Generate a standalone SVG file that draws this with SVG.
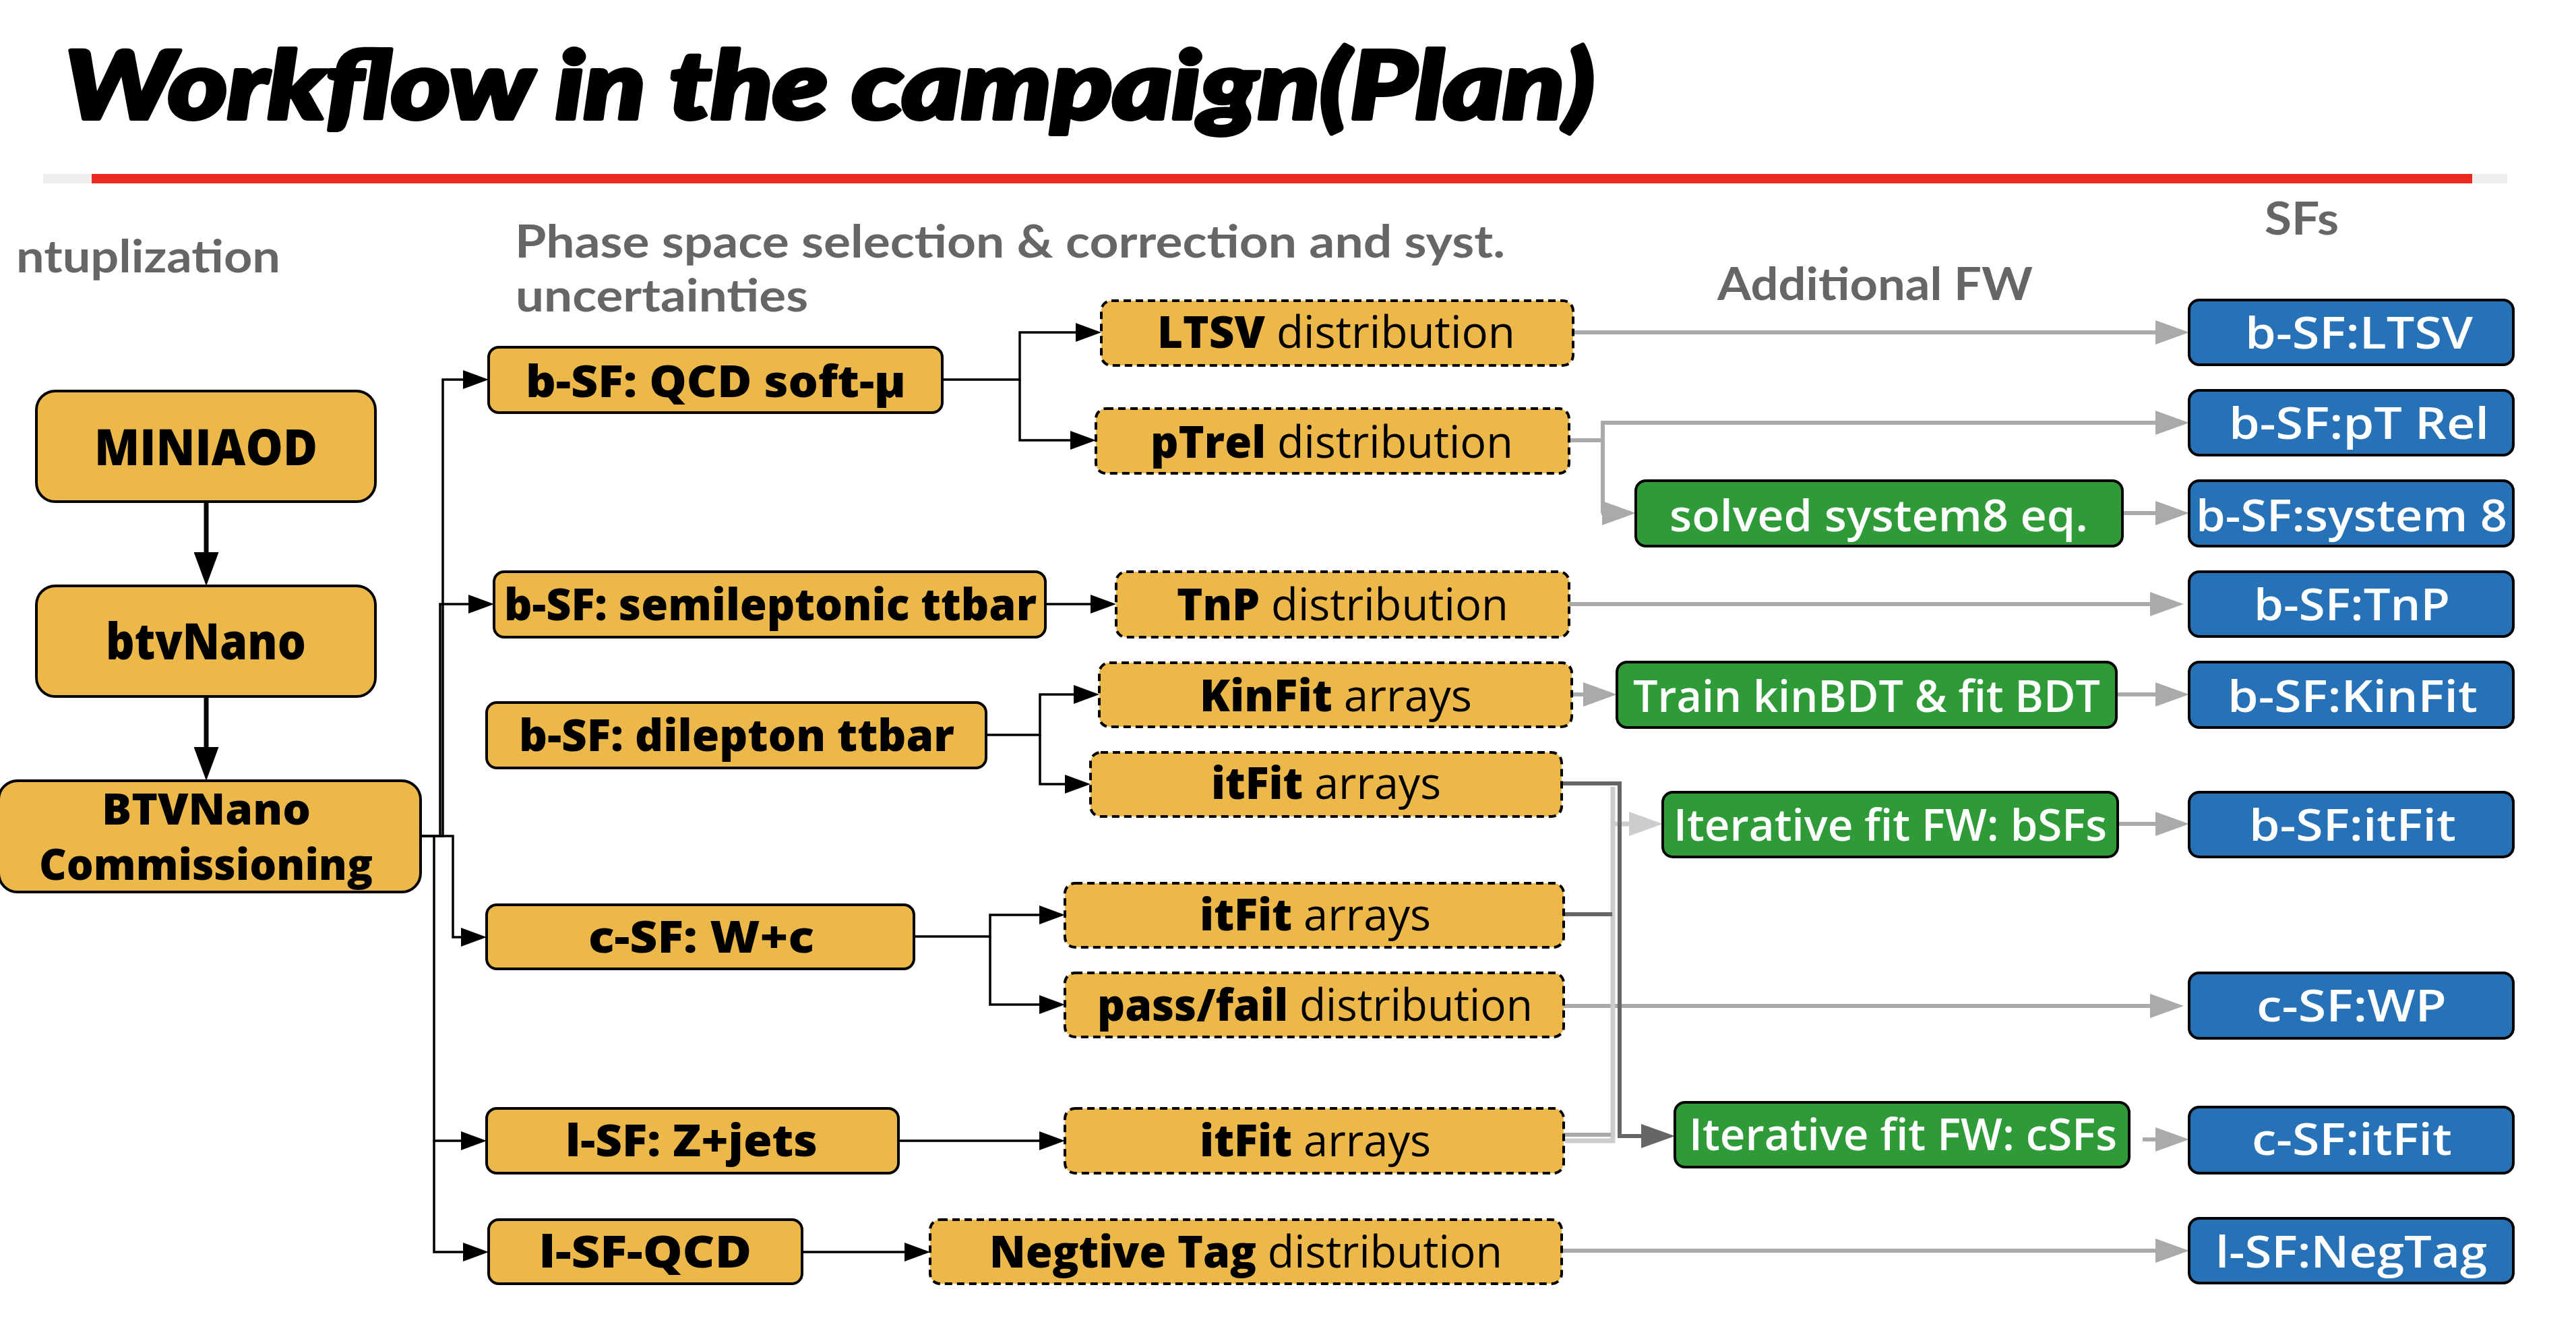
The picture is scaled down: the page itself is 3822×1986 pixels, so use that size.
<svg xmlns="http://www.w3.org/2000/svg" width="3822" height="1986" viewBox="0 0 3822 1986">
<style>
.t{font-family:"Open Sans","Noto Sans",sans-serif;font-size:66px}
.k{fill:#000;font-weight:800}
.kr{font-weight:400}
.w{fill:#fff;font-weight:600}
.h{font-family:Lato,"Open Sans",sans-serif;font-weight:700;fill:#666;font-size:67px}
.o{fill:#ECB84A;stroke:#000;stroke-width:4}
.od{fill:#ECB84A;stroke:#000;stroke-width:4;stroke-dasharray:11 7}
.g{fill:#2E9A38;stroke:#000;stroke-width:4}
.b{fill:#2771B6;stroke:#000;stroke-width:4}
.cb{fill:none;stroke:#000;stroke-width:3.5}
.cB{fill:none;stroke:#000;stroke-width:7}
.cg{fill:none;stroke:#aaa;stroke-width:6}
.cd{fill:none;stroke:#666;stroke-width:6}
.cl{fill:none;stroke:#ccc;stroke-width:7}
</style>
<defs>
<marker id="ab" markerUnits="userSpaceOnUse" markerWidth="38" markerHeight="28" refX="0" refY="14" orient="auto"><path d="M0,0 L38,14 L0,28 z" fill="#000"/></marker>
<marker id="aB" markerUnits="userSpaceOnUse" markerWidth="50" markerHeight="37" refX="0" refY="18.5" orient="auto"><path d="M0,0 L50,18.5 L0,37 z" fill="#000"/></marker>
<marker id="ag" markerUnits="userSpaceOnUse" markerWidth="50" markerHeight="36" refX="0" refY="18" orient="auto"><path d="M0,0 L50,18 L0,36 z" fill="#aaa"/></marker>
<marker id="ad" markerUnits="userSpaceOnUse" markerWidth="50" markerHeight="36" refX="0" refY="18" orient="auto"><path d="M0,0 L50,18 L0,36 z" fill="#666"/></marker>
<marker id="al" markerUnits="userSpaceOnUse" markerWidth="50" markerHeight="36" refX="0" refY="18" orient="auto"><path d="M0,0 L50,18 L0,36 z" fill="#ccc"/></marker>
</defs>
<rect x="0" y="0" width="3822" height="1986" fill="#fff"/>

<g id="title">
<text x="96" y="176" textLength="2270" lengthAdjust="spacingAndGlyphs" style="font-family:Lato,'Open Sans',sans-serif;font-weight:900;font-style:italic;font-size:140px;fill:#000;stroke:#000;stroke-width:6;stroke-linejoin:round">Workflow in the campaign(Plan)</text>
<rect x="64" y="258" width="3656" height="14" fill="#eeeeee"/>
<rect x="136" y="258" width="3532" height="14" fill="#EA2A1F"/>
</g>

<g id="headers">
<text class="h" x="24" y="404" textLength="392" lengthAdjust="spacingAndGlyphs">ntuplization</text>
<text class="h" x="764" y="382" textLength="1469" lengthAdjust="spacingAndGlyphs">Phase space selection &amp; correction and syst.</text>
<text class="h" x="765" y="462" textLength="434" lengthAdjust="spacingAndGlyphs">uncertainties</text>
<text class="h" x="2548" y="445" textLength="468" lengthAdjust="spacingAndGlyphs">Additional FW</text>
<text class="h" x="3360" y="348" textLength="110" lengthAdjust="spacingAndGlyphs">SFs</text>
</g>

<g id="connectors">
<path class="cB" d="M306,744 V819" marker-end="url(#aB)"/>
<path class="cB" d="M306,1033 V1108" marker-end="url(#aB)"/>
<path class="cb" d="M624,1240 H657 V563 H687" marker-end="url(#ab)"/>
<path class="cb" d="M624,1240 H653 V896 H695" marker-end="url(#ab)"/>
<path class="cb" d="M624,1240 H672 V1390 H684" marker-end="url(#ab)"/>
<path class="cb" d="M624,1240 H644 V1692 H684" marker-end="url(#ab)"/>
<path class="cb" d="M644,1692 V1857 H687" marker-end="url(#ab)"/>
<path class="cb" d="M1398,563 H1513 V493 H1596" marker-end="url(#ab)"/>
<path class="cb" d="M1513,563 V653 H1588" marker-end="url(#ab)"/>
<path class="cb" d="M1551,896 H1618" marker-end="url(#ab)"/>
<path class="cb" d="M1463,1090 H1543 V1030 H1593" marker-end="url(#ab)"/>
<path class="cb" d="M1543,1090 V1163 H1580" marker-end="url(#ab)"/>
<path class="cb" d="M1356,1389 H1469 V1357 H1542" marker-end="url(#ab)"/>
<path class="cb" d="M1469,1389 V1490 H1542" marker-end="url(#ab)"/>
<path class="cb" d="M1333,1692 H1542" marker-end="url(#ab)"/>
<path class="cb" d="M1190,1857 H1342" marker-end="url(#ab)"/>

<path class="cg" d="M2334,493 H3198" marker-end="url(#ag)"/>
<path class="cg" d="M2328,653 H2378 V627 H3198" marker-end="url(#ag)"/>
<path class="cg" d="M2378,627 V761"/>
<path class="cg" d="M2376,761 H2377" marker-end="url(#ag)"/>
<path class="cg" d="M3149,761 H3198" marker-end="url(#ag)"/>
<path class="cg" d="M2328,896 H3190" marker-end="url(#ag)"/>
<path class="cg" d="M2332,1030 H2349" marker-end="url(#ag)"/>
<path class="cg" d="M3140,1030 H3198" marker-end="url(#ag)"/>
<path class="cg" d="M3142,1222 H3198" marker-end="url(#ag)"/>
<path class="cg" d="M2320,1492 H3190" marker-end="url(#ag)"/>
<path class="cg" d="M3179,1690 H3198" marker-end="url(#ag)"/>
<path class="cg" d="M2317,1855 H3198" marker-end="url(#ag)"/>
<path class="cl" d="M2393,1167 V1692 H2322"/>
<path class="cl" d="M2393,1222 H2417" marker-end="url(#al)"/>
<path class="cg" d="M2296,1683 H2390"/>
<path class="cd" d="M2317,1162 H2403 V1685 H2435" marker-end="url(#ad)"/>
<path class="cd" d="M2320,1356 H2392"/>
</g>

<g id="n-miniaod"><rect class="o" x="54" y="580" width="503" height="164" rx="28"/><text class="t k" x="140" y="690" style="font-size:74px" textLength="331" lengthAdjust="spacingAndGlyphs">MINIAOD</text></g>
<g id="n-btvnano"><rect class="o" x="54" y="869" width="503" height="164" rx="28"/><text class="t k" x="157" y="978" style="font-size:74px" textLength="297" lengthAdjust="spacingAndGlyphs">btvNano</text></g>
<g id="n-btvcomm"><rect class="o" x="-2" y="1158" width="626" height="165" rx="28"/><text class="t k" x="151" y="1223" style="font-size:64px" textLength="310" lengthAdjust="spacingAndGlyphs">BTVNano</text><text class="t k" x="58" y="1305" style="font-size:64px" textLength="495" lengthAdjust="spacingAndGlyphs">Commissioning</text></g>

<g id="n-qcd"><rect class="o" x="725" y="515" width="673" height="97" rx="15"/><text class="t k" x="780" y="589" textLength="564" lengthAdjust="spacingAndGlyphs">b-SF: QCD soft-μ</text></g>
<g id="n-semilep"><rect class="o" x="733" y="848" width="818" height="97" rx="15"/><text class="t k" x="748" y="920" textLength="790" lengthAdjust="spacingAndGlyphs">b-SF: semileptonic ttbar</text></g>
<g id="n-dilep"><rect class="o" x="722" y="1042" width="741" height="97" rx="15"/><text class="t k" x="770" y="1114" textLength="646" lengthAdjust="spacingAndGlyphs">b-SF: dilepton ttbar</text></g>
<g id="n-wc"><rect class="o" x="722" y="1342" width="634" height="95" rx="15"/><text class="t k" x="873" y="1413" textLength="335" lengthAdjust="spacingAndGlyphs">c-SF: W+c</text></g>
<g id="n-zjets"><rect class="o" x="722" y="1644" width="611" height="96" rx="15"/><text class="t k" x="839" y="1715" textLength="374" lengthAdjust="spacingAndGlyphs">l-SF: Z+jets</text></g>
<g id="n-lqcd"><rect class="o" x="725" y="1809" width="465" height="95" rx="15"/><text class="t k" x="800" y="1880" textLength="315" lengthAdjust="spacingAndGlyphs">l-SF-QCD</text></g>

<g id="n-ltsvd"><rect class="od" x="1634" y="446" width="700" height="96" rx="15"/><text class="t k" x="1717" y="516" textLength="531" lengthAdjust="spacingAndGlyphs">LTSV<tspan class="kr"> distribution</tspan></text></g>
<g id="n-ptreld"><rect class="od" x="1626" y="606" width="702" height="96" rx="15"/><text class="t k" x="1707" y="679" textLength="538" lengthAdjust="spacingAndGlyphs">pTrel<tspan class="kr"> distribution</tspan></text></g>
<g id="n-tnpd"><rect class="od" x="1656" y="848" width="672" height="97" rx="15"/><text class="t k" x="1746" y="920" textLength="492" lengthAdjust="spacingAndGlyphs">TnP<tspan class="kr"> distribution</tspan></text></g>
<g id="n-kinfita"><rect class="od" x="1631" y="983" width="701" height="95" rx="15"/><text class="t k" x="1780" y="1055" textLength="404" lengthAdjust="spacingAndGlyphs">KinFit<tspan class="kr"> arrays</tspan></text></g>
<g id="n-itfit1"><rect class="od" x="1618" y="1116" width="699" height="95" rx="15"/><text class="t k" x="1797" y="1185" textLength="341" lengthAdjust="spacingAndGlyphs">itFit<tspan class="kr"> arrays</tspan></text></g>
<g id="n-itfit2"><rect class="od" x="1580" y="1310" width="740" height="95" rx="15"/><text class="t k" x="1780" y="1380" textLength="343" lengthAdjust="spacingAndGlyphs">itFit<tspan class="kr"> arrays</tspan></text></g>
<g id="n-passfail"><rect class="od" x="1580" y="1443" width="740" height="95" rx="15"/><text class="t k" x="1628" y="1514" textLength="646" lengthAdjust="spacingAndGlyphs">pass/fail<tspan class="kr"> distribution</tspan></text></g>
<g id="n-itfit3"><rect class="od" x="1580" y="1644" width="740" height="96" rx="15"/><text class="t k" x="1780" y="1715" textLength="343" lengthAdjust="spacingAndGlyphs">itFit<tspan class="kr"> arrays</tspan></text></g>
<g id="n-negtag"><rect class="od" x="1380" y="1809" width="937" height="95" rx="15"/><text class="t k" x="1468" y="1880" textLength="761" lengthAdjust="spacingAndGlyphs">Negtive Tag<tspan class="kr"> distribution</tspan></text></g>

<g id="n-sys8eq"><rect class="g" x="2427" y="713" width="722" height="97" rx="15"/><text class="t w" x="2477" y="788" textLength="621" lengthAdjust="spacingAndGlyphs">solved system8 eq.</text></g>
<g id="n-train"><rect class="g" x="2399" y="982" width="741" height="97" rx="15"/><text class="t w" x="2423" y="1056" textLength="693" lengthAdjust="spacingAndGlyphs">Train kinBDT &amp; fit BDT</text></g>
<g id="n-itbsf"><rect class="g" x="2467" y="1175" width="675" height="96" rx="15"/><text class="t w" x="2483" y="1247" textLength="643" lengthAdjust="spacingAndGlyphs">Iterative fit FW: bSFs</text></g>
<g id="n-itcsf"><rect class="g" x="2485" y="1635" width="674" height="96" rx="15"/><text class="t w" x="2506" y="1706" textLength="635" lengthAdjust="spacingAndGlyphs">Iterative fit FW: cSFs</text></g>

<g id="n-sf-ltsv"><rect class="b" x="3248" y="445" width="481" height="96" rx="15"/><text class="t w" x="3331" y="517" textLength="338" lengthAdjust="spacingAndGlyphs">b-SF:LTSV</text></g>
<g id="n-sf-ptrel"><rect class="b" x="3248" y="579" width="481" height="96" rx="15"/><text class="t w" x="3307" y="651" textLength="386" lengthAdjust="spacingAndGlyphs">b-SF:pT Rel</text></g>
<g id="n-sf-sys8"><rect class="b" x="3248" y="713" width="481" height="97" rx="15"/><text class="t w" x="3258" y="788" textLength="462" lengthAdjust="spacingAndGlyphs">b-SF:system 8</text></g>
<g id="n-sf-tnp"><rect class="b" x="3248" y="848" width="481" height="96" rx="15"/><text class="t w" x="3344" y="920" textLength="291" lengthAdjust="spacingAndGlyphs">b-SF:TnP</text></g>
<g id="n-sf-kinfit"><rect class="b" x="3248" y="982" width="481" height="97" rx="15"/><text class="t w" x="3305" y="1056" textLength="371" lengthAdjust="spacingAndGlyphs">b-SF:KinFit</text></g>
<g id="n-sf-bitfit"><rect class="b" x="3248" y="1175" width="481" height="96" rx="15"/><text class="t w" x="3337" y="1247" textLength="307" lengthAdjust="spacingAndGlyphs">b-SF:itFit</text></g>
<g id="n-sf-wp"><rect class="b" x="3248" y="1443" width="481" height="97" rx="15"/><text class="t w" x="3348" y="1515" textLength="282" lengthAdjust="spacingAndGlyphs">c-SF:WP</text></g>
<g id="n-sf-citfit"><rect class="b" x="3248" y="1642" width="481" height="98" rx="15"/><text class="t w" x="3341" y="1713" textLength="297" lengthAdjust="spacingAndGlyphs">c-SF:itFit</text></g>
<g id="n-sf-negtag"><rect class="b" x="3248" y="1807" width="481" height="96" rx="15"/><text class="t w" x="3287" y="1880" textLength="403" lengthAdjust="spacingAndGlyphs">l-SF:NegTag</text></g>
</svg>
